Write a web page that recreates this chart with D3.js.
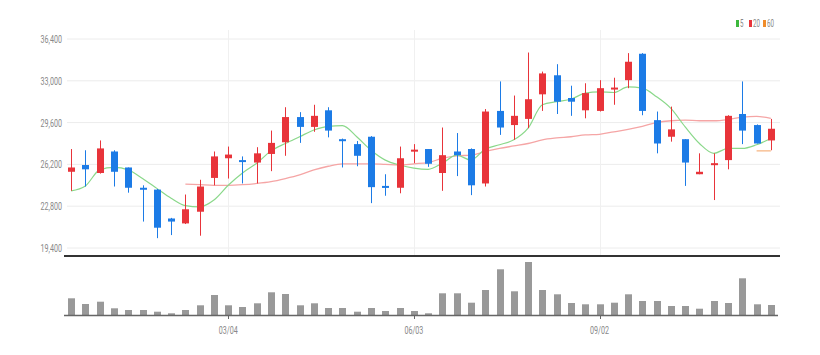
<!DOCTYPE html>
<html><head><meta charset="utf-8">
<script src="https://cdn.jsdelivr.net/npm/d3@7"></script>
<style>
html,body{margin:0;padding:0;background:#fff;}
svg{display:block;}
text{font-family:"Roboto","Liberation Sans",sans-serif;}
</style></head>
<body>
<svg id="c" width="820" height="355"></svg>
<script>
// ---- data ----
const opens  = [25600,26150,25500,27250,25950,24300,24150,21800,21400,22350,25100,26700,26550,26350,27050,28000,30050,29250,30600,28250,27850,28450,24450,24300,27300,27450,25500,27250,27450,24650,30550,29400,29900,31900,33450,31600,30600,30550,32300,33050,35200,29800,28450,28250,25400,26150,26550,30300,29400,28150];
const highs  = [27450,27350,28150,27350,25950,24500,24200,21850,23750,24950,27250,27650,26850,27600,28950,30850,30450,31050,30850,28300,28100,28500,25400,27650,27850,27450,29200,28750,27500,30700,32950,31800,35300,33750,34350,32600,32800,33050,33250,35250,35250,30500,30900,28250,27100,27100,30200,32950,29450,29900];
const lows   = [24050,24400,25450,24400,23900,21550,20200,20450,21350,20400,24500,25050,24650,24650,25650,26900,27950,28850,28400,25950,26050,23050,23650,23850,26300,26000,24050,25250,23700,24400,28600,28200,29150,30550,30300,30150,29950,30500,31050,32400,30200,27100,28050,24450,25400,23300,25800,27850,27900,27350];
const closes = [25950,25800,27500,25600,24300,24250,21050,21550,22550,24400,26850,27000,26400,27100,27950,30050,29250,30150,28950,28200,26900,24350,24350,26700,27400,26250,26950,26950,24500,30500,29200,30150,31500,33600,31300,31300,32000,32400,32450,34550,30550,27900,29050,26350,25600,26300,30150,28950,27900,29100];
const volumes = [167,110,133,67,50,50,33,17,50,97,200,97,80,117,227,210,97,117,70,70,33,70,40,70,40,17,217,217,123,250,457,237,530,250,207,120,107,107,123,207,140,140,90,90,63,140,120,367,107,100];
const ma5 = [24050,24450,25750,25950,25750,25050,24250,23450,22850,22750,23300,24500,25500,26300,27300,27900,28450,29000,29300,29350,28450,27350,26550,26150,25900,25800,26300,26950,26550,27450,27800,28200,29150,31050,31300,31500,32000,32100,32050,32500,32400,31700,30750,29250,27900,27100,27500,27500,27800,28300];
const ma20 = [null,null,null,null,null,null,null,null,24600,24550,24500,24500,24550,24650,24800,25050,25350,25750,26050,26250,26250,26250,26200,26150,26250,26350,26700,26900,26950,27250,27500,27700,27900,28200,28350,28450,28600,28650,28850,29050,29300,29600,29750,29800,29750,29750,29850,30050,30100,29950];
const ma60 = [null,null,null,null,null,null,null,null,null,null,null,null,null,null,null,null,null,null,null,null,null,null,null,null,null,null,null,null,null,null,null,null,null,null,null,null,null,null,null,null,null,null,null,null,null,null,null,null,27300,27300];
const yTicks = [19400,22800,26200,29600,33000,36400];
const xTickIndex = [11,24,37];
const xTickLabels = ["03/04","06/03","09/02"];
const legendLabels = ["5","20","60"];

// ---- styles ----
const RED = "#e8343a", BLUE = "#1c7be6";
const C5 = "#8ad88a", C20 = "#f5a5a5", C60 = "#f6b27c";
const SX = 0.62; // narrow glyphs

const svg = d3.select("#c");
const idx = d3.range(opens.length);
const x = d3.scaleBand().domain(idx).range([64, 778]).paddingInner(0.5).paddingOuter(0.25);
const cx = i => x(i) + x.bandwidth()/2;
const y = d3.scaleLinear().domain([19400, 36400]).range([248, 39]);
const yv = d3.scaleLinear().domain([0, 600]).range([315, 255]);

// grid
svg.append("g").selectAll("line").data(yTicks).join("line")
  .attr("x1", 67).attr("x2", 780).attr("y1", d => y(d)).attr("y2", d => y(d))
  .attr("stroke", "#ececec").attr("stroke-width", 1);
svg.append("g").selectAll("line").data(xTickIndex).join("line")
  .attr("x1", d => Math.round(cx(d))+0.5).attr("x2", d => Math.round(cx(d))+0.5)
  .attr("y1", 30).attr("y2", 255).attr("stroke", "#f0f0f0");

// y labels
svg.append("g").selectAll("text").data(yTicks).join("text")
  .attr("transform", d => `translate(62,${y(d)}) scale(${SX},1)`)
  .attr("dy", "0.35em")
  .attr("text-anchor", "end").attr("font-size", 11.5).attr("fill", "#888")
  .text(d => d3.format(",")(d));

// MA lines
const line = d3.line().defined(d => d != null).x((d, i) => cx(i)).y(d => y(d)).curve(d3.curveMonotoneX);
svg.append("path").attr("d", line(ma20)).attr("fill", "none").attr("stroke", C20).attr("stroke-width", 1.3);
svg.append("path").attr("d", line(ma60)).attr("fill", "none").attr("stroke", C60).attr("stroke-width", 1.2);
svg.append("path").attr("d", line(ma5)).attr("fill", "none").attr("stroke", C5).attr("stroke-width", 1.2);

// candles
const cg = svg.append("g").selectAll("g").data(idx).join("g");
const col = i => closes[i] >= opens[i] ? RED : BLUE;
cg.append("line")
  .attr("x1", i => Math.round(cx(i))+0.5).attr("x2", i => Math.round(cx(i))+0.5)
  .attr("y1", i => y(highs[i])).attr("y2", i => y(lows[i]))
  .attr("stroke", col).attr("stroke-width", 1);
cg.append("rect")
  .attr("x", i => Math.round(cx(i)) - 3)
  .attr("width", 7)
  .attr("y", i => y(Math.max(opens[i], closes[i])))
  .attr("height", i => Math.max(2, Math.abs(y(opens[i]) - y(closes[i]))))
  .attr("fill", col);

// separator
svg.append("line").attr("x1", 64).attr("x2", 780).attr("y1", 256).attr("y2", 256)
  .attr("stroke", "#333").attr("stroke-width", 2);

// volume
svg.append("g").selectAll("rect").data(idx).join("rect")
  .attr("x", i => Math.round(cx(i)) - 3).attr("width", 7)
  .attr("y", i => yv(volumes[i])).attr("height", i => 315 - yv(volumes[i]))
  .attr("fill", "#999");
svg.append("line").attr("x1", 64).attr("x2", 778).attr("y1", 315.5).attr("y2", 315.5)
  .attr("stroke", "#666").attr("stroke-width", 1.5);
const xt = svg.append("g").selectAll("g").data(xTickIndex).join("g");
xt.append("line").attr("x1", d => Math.round(cx(d))+0.5).attr("x2", d => Math.round(cx(d))+0.5)
  .attr("y1", 315).attr("y2", 319).attr("stroke", "#666");
xt.append("text").attr("transform", d => `translate(${cx(d)},334) scale(${SX},1)`)
  .attr("text-anchor", "middle")
  .attr("font-size", 11.5).attr("fill", "#888").text((d, i) => xTickLabels[i]);

// legend
const lg = svg.append("g");
const lcol = ["#3cb83c", RED, "#f08c2a"];
const lx = [736, 749, 763];
legendLabels.forEach((t, i) => {
  lg.append("rect").attr("x", lx[i]).attr("y", 20).attr("width", 3).attr("height", 7).attr("fill", lcol[i]);
  lg.append("text").attr("transform", `translate(${lx[i] + 4},27) scale(${SX},1)`)
    .attr("font-size", 10).attr("fill", "#888").text(t);
});
</script>
</body></html>
